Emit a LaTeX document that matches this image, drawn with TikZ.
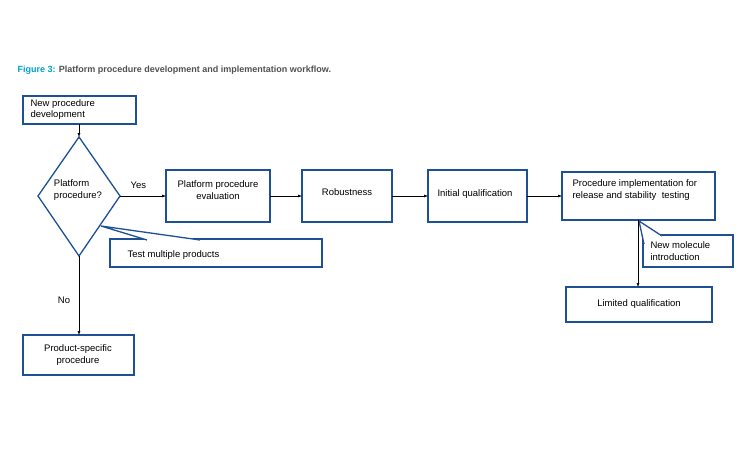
\documentclass[tikz,border=0pt]{standalone}
\usepackage{fontspec}
\setmainfont{Liberation Sans}
\usetikzlibrary{arrows.meta}
\definecolor{bx}{RGB}{30,80,150}
\definecolor{cy}{RGB}{0,160,205}
\definecolor{gt}{RGB}{80,80,80}
\begin{document}
\begin{tikzpicture}[x=1pt,y=-1pt,
  box/.style={draw=bx,line width=1.3pt,fill=white},
  txt/.style={font=\fontsize{9.5}{11.5}\selectfont,align=center},
  arr/.style={-{Latex[length=4pt,width=3pt]},line width=0.5pt}]
\useasboundingbox (0,0) rectangle (750,450);
\node[anchor=west,font=\fontsize{9}{11}\selectfont\bfseries] (title) at (14,70) {\textcolor{cy}{Figure 3:} \textcolor{gt}{Platform procedure development and implementation workflow.}};
% boxes
\draw[box] (23,96) rectangle (136,124);
\node[txt,align=left,anchor=north west] (n1) at (27,96) {New procedure\\development};
\coordinate (b1s) at (79,124);
\draw[box] (79,137) -- (120,196) -- (79,256) -- (38,196) -- cycle;
\coordinate (dt) at (79,137); \coordinate (dr) at (120,196); \coordinate (db) at (79,256);
\node[txt,align=left] (d) at (78,190) {Platform\\procedure?};
\draw[box] (166,170) rectangle (270,222);
\node[txt] (n2) at (218,190) {Platform procedure\\evaluation};
\coordinate (b2l) at (166,196); \coordinate (b2r) at (270,196);
\draw[box] (302,170) rectangle (392,222);
\node[txt] (n3) at (347,192) {Robustness};
\coordinate (b3l) at (302,196); \coordinate (b3r) at (392,196);
\draw[box] (428,170) rectangle (527,222);
\node[txt,anchor=west] (n4) at (434,194) {Initial qualification};
\coordinate (b4l) at (428,196); \coordinate (b4r) at (527,196);
\draw[box] (562,172) rectangle (715,220);
\node[txt,align=left,anchor=west] (n5) at (569,190) {Procedure implementation for\\release and stability\ \ testing};
\coordinate (b5l) at (562,196); \coordinate (b5b) at (638,220);
\draw[box] (566,287) rectangle (712,322);
\node[txt] (n6) at (639,304) {Limited qualification};
\coordinate (b6t) at (638,287);
\draw[box] (23,335) rectangle (134,375);
\node[txt] (n7) at (78,355) {Product-specific\\procedure};
\coordinate (b7t) at (79,335);
% callouts
\draw[box] (110,239) rectangle (322,267);
\draw[draw=bx,line width=1.3pt,fill=white] (147,240) -- (101,226) -- (200,240);
\node[txt,anchor=west] (c1) at (124,255) {Test multiple products};
\draw[box] (643,235) rectangle (733,267);
\draw[draw=bx,line width=1.3pt,fill=white] (644,244) -- (639,221) -- (662,236);
\node[txt,align=left,anchor=west] (c2) at (647,251) {New molecule\\introduction};
% arrows
\draw[arr] (b1s) -- (dt);
\draw[arr] (dr) -- node[above,txt,pos=0.4,yshift=4pt] (yes) {Yes} (b2l);
\draw[arr] (b2r) -- (b3l);
\draw[arr] (b3r) -- (b4l);
\draw[arr] (b4r) -- (b5l);
\draw[arr] (b5b) -- (b6t);
\draw[arr] (db) -- (b7t);
\node[txt] (no) at (64,300) {No};
\end{tikzpicture}
\end{document}
